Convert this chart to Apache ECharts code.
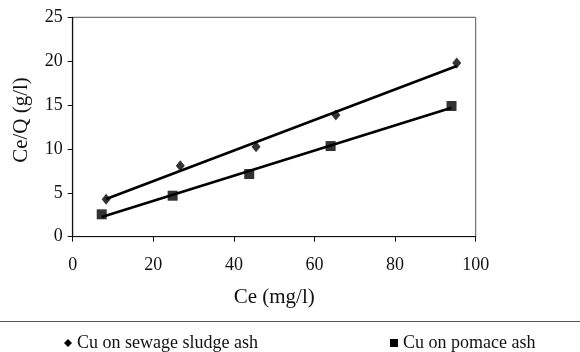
<!DOCTYPE html>
<html>
<head>
<meta charset="utf-8">
<script src="https://cdn.jsdelivr.net/npm/echarts@6/dist/echarts.min.js"></script>
<style>
  html, body { margin: 0; padding: 0; background: #fff; }
  #chart { width: 580px; height: 352px; }
</style>
</head>
<body>
<div id="chart"></div>
<script>
// Equilibrium data: Ce (mg/l) against Ce/Q (g/l)
var sludgeCe = [8.3, 26.7, 45.5, 65.3, 95.3];
var sludgeRatio = [4.26, 8.09, 10.25, 13.86, 19.8];
var pomaceCe = [7.2, 24.8, 43.8, 64.0, 94.0];
var pomaceRatio = [2.55, 4.67, 7.14, 10.33, 14.89];
var xTicks = [0, 20, 40, 60, 80, 100];
var yTicks = [0, 5, 10, 15, 20, 25];
var sludgeName = 'Cu on sewage sludge ash';
var pomaceName = 'Cu on pomace ash';

function pairs(xs, ys) {
  return xs.map(function (x, i) { return [x, ys[i]]; });
}

// Least-squares line spanning the data range
function fitLine(xs, ys) {
  var n = xs.length, sx = 0, sy = 0, sxx = 0, sxy = 0;
  for (var i = 0; i < n; i++) {
    sx += xs[i]; sy += ys[i]; sxx += xs[i] * xs[i]; sxy += xs[i] * ys[i];
  }
  var b = (n * sxy - sx * sy) / (n * sxx - sx * sx);
  var a = (sy - b * sx) / n;
  var x0 = Math.min.apply(null, xs), x1 = Math.max.apply(null, xs);
  return [[x0, a + b * x0], [x1, a + b * x1]];
}

var font = '"Liberation Serif", "Times New Roman", serif';
var ink = '#111';
var chart = echarts.init(document.getElementById('chart'));

chart.setOption({
  animation: false,
  backgroundColor: '#fff',
  textStyle: { fontFamily: font },
  grid: { left: 72.7, top: 17.3, width: 403, height: 219.4, show: true, borderColor: '#555', borderWidth: 1, backgroundColor: 'transparent' },
  xAxis: {
    type: 'value', min: xTicks[0], max: xTicks[xTicks.length - 1], interval: 20,
    name: 'Ce (mg/l)', nameLocation: 'middle', nameGap: 50,
    nameTextStyle: { fontFamily: font, fontSize: 21, color: ink },
    axisLine: { lineStyle: { color: ink, width: 1.2 } },
    axisTick: { show: true, length: 5, inside: false, lineStyle: { color: ink } },
    axisLabel: { fontFamily: font, fontSize: 18, color: ink, margin: 20 },
    splitLine: { show: false }
  },
  yAxis: {
    type: 'value', min: yTicks[0], max: yTicks[yTicks.length - 1], interval: 5,
    name: 'Ce/Q (g/l)', nameLocation: 'middle', nameGap: 41, nameRotate: 90,
    nameTextStyle: { fontFamily: font, fontSize: 21, color: ink, padding: [0, 0, 0, 14] },
    axisLine: { show: true, lineStyle: { color: ink, width: 1.2 } },
    axisTick: { show: true, length: 5, inside: false, lineStyle: { color: ink } },
    axisLabel: { fontFamily: font, fontSize: 18, color: ink, margin: 10 },
    splitLine: { show: false }
  },
  legend: [
    {
      data: [{ name: sludgeName, icon: 'diamond', itemStyle: { color: '#000' } }],
      left: 59, top: 329, itemWidth: 8, itemHeight: 8, itemGap: 4,
      textStyle: { fontFamily: font, fontSize: 18, color: ink }
    },
    {
      data: [{ name: pomaceName, icon: 'rect', itemStyle: { color: '#000' } }],
      left: 385, top: 329, itemWidth: 8, itemHeight: 8, itemGap: 4,
      textStyle: { fontFamily: font, fontSize: 18, color: ink }
    }
  ],
  graphic: [
    { type: 'line', shape: { x1: 0, y1: 321.5, x2: 580, y2: 321.5 }, style: { stroke: '#555', lineWidth: 1.2 } }
  ],
  series: [
    {
      name: sludgeName, type: 'line', data: fitLine(sludgeCe, sludgeRatio),
      showSymbol: false, symbol: 'none', lineStyle: { color: '#000', width: 2.6 }, itemStyle: { color: '#000' }, z: 2, silent: true
    },
    {
      name: pomaceName, type: 'line', data: fitLine(pomaceCe, pomaceRatio),
      showSymbol: false, symbol: 'none', lineStyle: { color: '#000', width: 2.6 }, itemStyle: { color: '#000' }, z: 2, silent: true
    },
    {
      name: sludgeName, type: 'scatter', data: pairs(sludgeCe, sludgeRatio),
      symbol: 'diamond', symbolSize: [9, 11], itemStyle: { color: '#000' }, z: 3
    },
    {
      name: pomaceName, type: 'scatter', data: pairs(pomaceCe, pomaceRatio),
      symbol: 'rect', symbolSize: 10, itemStyle: { color: '#000' }, z: 3
    }
  ]
});
</script>
</body>
</html>
